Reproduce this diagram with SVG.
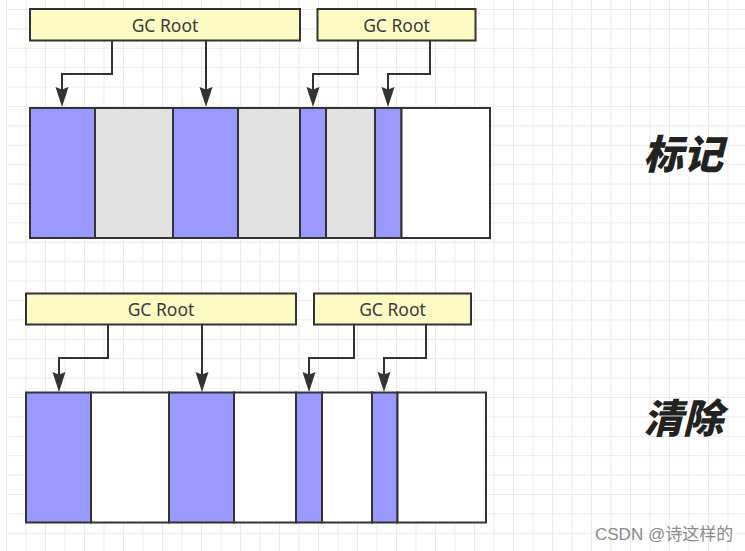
<svg xmlns="http://www.w3.org/2000/svg" width="745" height="551" viewBox="0 0 745 551">
<style>
.root{fill:#fdfbc4;stroke:#333;stroke-width:2}
.rt{font-family:"Noto Sans","Open Sans",sans-serif;font-size:17.5px;fill:#3a3a3a;text-anchor:middle}
.live{fill:#9999ff;stroke:#333;stroke-width:2}
.dead{fill:#e1e1e1;stroke:#333;stroke-width:2}
.free{fill:#ffffff;stroke:#333;stroke-width:2}
.big{font-family:"Noto Sans CJK SC",sans-serif;font-size:40px;font-weight:900;font-style:italic;fill:#222}
.wm{font-family:"Liberation Sans","Noto Sans CJK SC",sans-serif;font-size:17px;fill:#8a8a8a}
</style>
<defs>
<pattern id="grid" patternUnits="userSpaceOnUse" x="6" y="9" width="19.5" height="19.4">
<path d="M0 0.5H19.5M0.5 0V19.4" fill="none" stroke="#ebebeb" stroke-width="1"/>
</pattern>
</defs>
<rect width="745" height="551" fill="#fff"/>
<rect x="6" y="0" width="739" height="551" fill="url(#grid)"/>

<g id="connectors" fill="none" stroke="#333" stroke-width="2">
<path d="M112 41V74H62V90"/>
<path d="M206 41V90"/>
<path d="M358 41V74H313V90"/>
<path d="M430 41V74H388V90"/>
<path d="M108 325V358H59V375"/>
<path d="M202 325V375"/>
<path d="M354 325V358H309V375"/>
<path d="M426 325V358H384V375"/>
<g fill="#333" stroke="none">
<path d="M55.5 87L62 89.5L68.5 87L62 107Z"/>
<path d="M199.5 87L206 89.5L212.5 87L206 107Z"/>
<path d="M306.5 87L313 89.5L319.5 87L313 107Z"/>
<path d="M381.5 87L388 89.5L394.5 87L388 107Z"/>
<path d="M52.5 372L59 374.5L65.5 372L59 392Z"/>
<path d="M195.5 372L202 374.5L208.5 372L202 392Z"/>
<path d="M302.5 372L309 374.5L315.5 372L309 392Z"/>
<path d="M377.5 372L384 374.5L390.5 372L384 392Z"/>
</g>
</g>

<g id="mark-root-1"><rect class="root" x="30" y="9" width="270" height="31.5"/><text class="rt" x="165" y="32">GC Root</text></g>
<g id="mark-root-2"><rect class="root" x="317.5" y="9" width="158" height="31.5"/><text class="rt" x="396.5" y="32">GC Root</text></g>
<g id="mark-heap">
<rect class="live" x="30" y="108" width="65" height="130"/>
<rect class="dead" x="95" y="108" width="78" height="130"/>
<rect class="live" x="173" y="108" width="65" height="130"/>
<rect class="dead" x="238" y="108" width="62" height="130"/>
<rect class="live" x="300" y="108" width="26" height="130"/>
<rect class="dead" x="326" y="108" width="49" height="130"/>
<rect class="live" x="375" y="108" width="26.5" height="130"/>
<rect class="free" x="401.5" y="108" width="88.5" height="130"/>
</g>
<g id="label-mark"><text class="big" x="643" y="169">标记</text></g>

<g id="sweep-root-1"><rect class="root" x="26" y="293.5" width="270" height="31"/><text class="rt" x="161" y="316">GC Root</text></g>
<g id="sweep-root-2"><rect class="root" x="314" y="293.5" width="157" height="31"/><text class="rt" x="392.5" y="316">GC Root</text></g>
<g id="sweep-heap">
<rect class="live" x="26" y="392.5" width="65" height="130"/>
<rect class="free" x="91" y="392.5" width="78" height="130"/>
<rect class="live" x="169" y="392.5" width="65" height="130"/>
<rect class="free" x="234" y="392.5" width="62" height="130"/>
<rect class="live" x="296" y="392.5" width="26" height="130"/>
<rect class="free" x="322" y="392.5" width="50" height="130"/>
<rect class="live" x="372" y="392.5" width="25.5" height="130"/>
<rect class="free" x="397.5" y="392.5" width="88.5" height="130"/>
</g>
<g id="label-sweep"><text class="big" x="643" y="433">清除</text></g>

<text class="wm" x="595" y="540">CSDN @诗这样的</text>
</svg>
